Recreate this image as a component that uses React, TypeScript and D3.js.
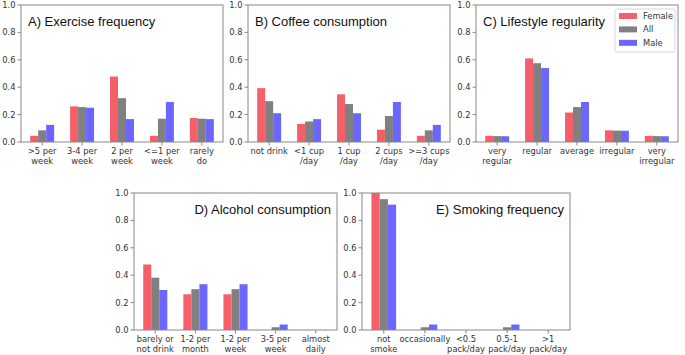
import React from "react";
import * as d3 from "d3";

const seriesNames = ["Female", "All", "Male"];
const seriesColors = ["#f45f69", "#808080", "#6a66ff"];
const yTicks = [0, 0.2, 0.4, 0.6, 0.8, 1.0];

const exerciseCats = [[">5 per", "week"], ["3-4 per", "week"], ["2 per", "week"], ["<=1 per", "week"], ["rarely", "do"]];
const exerciseFemale = [0.045, 0.26, 0.478, 0.045, 0.175];
const exerciseAll = [0.085, 0.255, 0.32, 0.17, 0.17];
const exerciseMale = [0.125, 0.25, 0.167, 0.292, 0.167];

const coffeeCats = [["not drink"], ["<1 cup", "/day"], ["1 cup", "/day"], ["2 cups", "/day"], [">=3 cups", "/day"]];
const coffeeFemale = [0.393, 0.132, 0.348, 0.09, 0.045];
const coffeeAll = [0.298, 0.15, 0.277, 0.19, 0.085];
const coffeeMale = [0.21, 0.167, 0.21, 0.292, 0.125];

const lifestyleCats = [["very", "regular"], ["regular"], ["average"], ["irregular"], ["very", "irregular"]];
const lifestyleFemale = [0.045, 0.61, 0.215, 0.085, 0.045];
const lifestyleAll = [0.043, 0.575, 0.255, 0.083, 0.043];
const lifestyleMale = [0.042, 0.54, 0.292, 0.082, 0.042];

const alcoholCats = [["barely or", "not drink"], ["1-2 per", "month"], ["1-2 per", "week"], ["3-5 per", "week"], ["almost", "daily"]];
const alcoholFemale = [0.478, 0.261, 0.261, 0, 0];
const alcoholAll = [0.382, 0.298, 0.298, 0.02, 0];
const alcoholMale = [0.292, 0.334, 0.334, 0.04, 0];

const smokingCats = [["not", "smoke"], ["occasionally"], ["<0.5", "pack/day"], ["0.5-1", "pack/day"], [">1", "pack/day"]];
const smokingFemale = [1.0, 0, 0, 0, 0];
const smokingAll = [0.955, 0.02, 0, 0.02, 0];
const smokingMale = [0.915, 0.04, 0, 0.04, 0];

const panels = [
  { title: "A) Exercise frequency", cats: exerciseCats, vals: [exerciseFemale, exerciseAll, exerciseMale], x0: 21, x1: 223, y0: 5, y1: 142, anchor: "start", legend: false },
  { title: "B) Coffee consumption", cats: coffeeCats, vals: [coffeeFemale, coffeeAll, coffeeMale], x0: 248, x1: 450, y0: 5, y1: 142, anchor: "start", legend: false },
  { title: "C) Lifestyle regularity", cats: lifestyleCats, vals: [lifestyleFemale, lifestyleAll, lifestyleMale], x0: 476, x1: 678, y0: 5, y1: 142, anchor: "start", legend: true },
  { title: "D) Alcohol consumption", cats: alcoholCats, vals: [alcoholFemale, alcoholAll, alcoholMale], x0: 134, x1: 337, y0: 193, y1: 330, anchor: "end", legend: false },
  { title: "E) Smoking frequency", cats: smokingCats, vals: [smokingFemale, smokingAll, smokingMale], x0: 362, x1: 570, y0: 193, y1: 330, anchor: "end", legend: false },
];

const tickFont = "'DejaVu Sans', sans-serif";
const titleFont = "'Liberation Sans', Arial, sans-serif";
const spine = "#888";
const textColor = "#333";

function Panel({ p }: { p: any }) {
  const x = d3.scaleLinear().domain([-0.53, 4.53]).range([p.x0, p.x1]);
  const y = d3.scaleLinear().domain([0, 1]).range([p.y1, p.y0]);
  const bw = x(0.2) - x(0);
  const idx = d3.range(p.cats.length);
  return (
    <g>
      {p.vals.map((arr: number[], s: number) =>
        arr.map((v, i) =>
          v > 0 ? (
            <rect key={`${s}-${i}`} x={x(i + (s - 1) * 0.2) - bw / 2} y={y(v)} width={bw} height={y(0) - y(v)} fill={seriesColors[s]} />
          ) : null
        )
      )}
      <rect x={p.x0} y={p.y0} width={p.x1 - p.x0} height={p.y1 - p.y0} fill="none" stroke={spine} strokeWidth={1} />
      {yTicks.map((t) => (
        <g key={t}>
          <line x1={p.x0 - 3.5} x2={p.x0} y1={y(t)} y2={y(t)} stroke={spine} />
          <text x={p.x0 - 5.5} y={y(t)} dy="0.35em" textAnchor="end" fontSize={8.3} fontFamily={tickFont} fill={textColor}>{t.toFixed(1)}</text>
        </g>
      ))}
      {idx.map((i) => (
        <g key={i}>
          <line x1={x(i)} x2={x(i)} y1={p.y1} y2={p.y1 + 3.5} stroke={spine} />
          {p.cats[i].map((line: string, j: number) => (
            <text key={j} x={x(i)} y={p.y1 + 12 + j * 10} textAnchor="middle" fontSize={8.3} fontFamily={tickFont} fill={textColor}>{line}</text>
          ))}
        </g>
      ))}
      <text x={p.anchor === "start" ? p.x0 + 7 : p.x1 - 6} y={p.y0 + 21} textAnchor={p.anchor} fontSize={13} fontFamily={titleFont} fill="#111">{p.title}</text>
      {p.legend ? (
        <g>
          <rect x={615} y={9} width={60} height={43} rx={2} fill="#fff" fillOpacity={0.8} stroke="#ccc" strokeWidth={0.8} />
          {seriesNames.map((n, s) => (
            <g key={n}>
              <rect x={619} y={16 + s * 13.4 - 3} width={18} height={6} fill={seriesColors[s]} />
              <text x={643} y={16 + s * 13.4} dy="0.35em" fontSize={8.3} fontFamily={tickFont} fill={textColor}>{n}</text>
            </g>
          ))}
        </g>
      ) : null}
    </g>
  );
}

export default function App() {
  return (
    <svg width={685} height={355} style={{ position: "absolute", left: 0, top: 0, background: "#fff" }}>
      {panels.map((p, k) => (
        <Panel key={k} p={p} />
      ))}
    </svg>
  );
}
